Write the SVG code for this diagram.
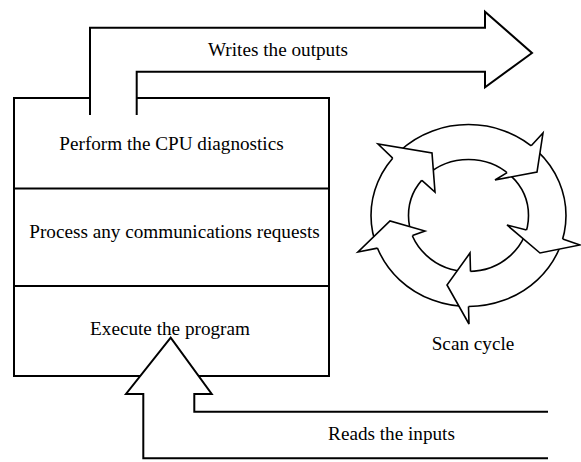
<svg xmlns="http://www.w3.org/2000/svg" width="581" height="462" viewBox="0 0 581 462">
<style>
  .t { font-family: "Liberation Serif", "Times New Roman", serif; font-size: 19.2px; fill: #000; text-anchor: middle; }
  .ln { fill: none; stroke: #000; stroke-width: 2; }
  .arr { fill: #fff; stroke: #000; stroke-width: 2; stroke-linejoin: miter; }
  .ring { fill: none; stroke: #000; stroke-width: 1.6; }
  .head { fill: #fff; stroke: #000; stroke-width: 1.6; stroke-linejoin: miter; }
</style>
<rect width="581" height="462" fill="#fff"/>
<g id="scan-box">
  <rect class="ln" x="14" y="98" width="315" height="278"/>
  <g id="cpu-diagnostics">
    <text class="t" x="171.5" y="149.5">Perform the CPU diagnostics</text>
  </g>
  <g id="communications">
    <line class="ln" x1="14" y1="188.5" x2="329" y2="188.5"/>
    <text class="t" x="174.5" y="238">Process any communications requests</text>
  </g>
  <g id="execute-program">
    <line class="ln" x1="14" y1="286" x2="329" y2="286"/>
    <text class="t" x="170" y="335">Execute the program</text>
  </g>
</g>
<g id="connectors">
  <g id="writes-outputs">
    <path class="arr" d="M90,115 V27.7 H485 V11.7 L532,53 L485,87.3 V71.7 H136.7 V115"/>
    <text class="t" x="278" y="56">Writes the outputs</text>
  </g>
  <g id="reads-inputs">
    <path class="arr" d="M548,458.3 H143.3 V394 H126 L170.7,337.7 L211.7,394 H194.3 V411.7 H548"/>
    <text class="t" x="391.5" y="440">Reads the inputs</text>
  </g>
</g>
<g id="scan-cycle">
  <ellipse class="ring" cx="468.5" cy="215.5" rx="97.5" ry="91"/>
  <ellipse class="ring" cx="468.5" cy="215.5" rx="60" ry="56"/>
  <path class="head" d="M392.7,158.2 L378,144 L432,153 L435,192 L421.9,180.3"/>
  <path class="head" d="M531.2,145.8 L543,133 L537,172 L495,180 L507.1,172.6"/>
  <path class="head" d="M562.7,239.1 L580,245 L540,253 L507,225 L526.5,230"/>
  <path class="head" d="M468.5,306.5 L469,324 L447,285 L470,253 L470.5,271.5"/>
  <path class="head" d="M377.5,248.1 L358,252 L390,221 L425,231 L412.5,235.6"/>
  <text class="t" x="473" y="350">Scan cycle</text>
</g>
</svg>
